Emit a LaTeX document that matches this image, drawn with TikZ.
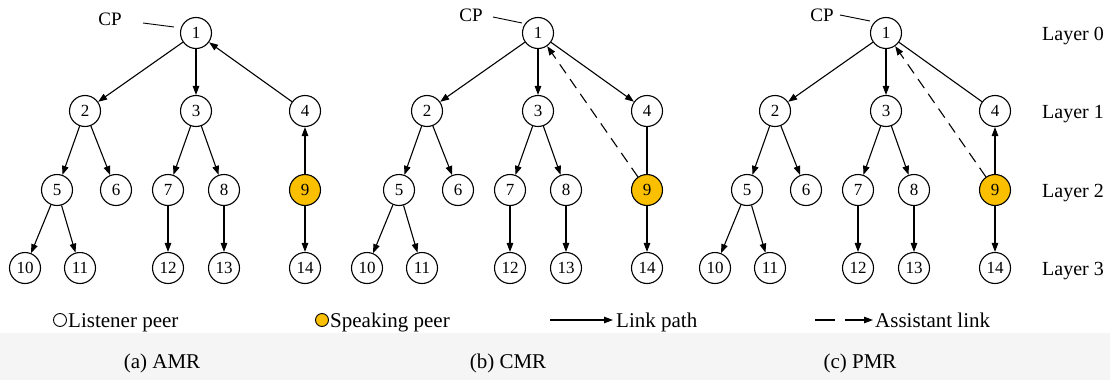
\documentclass[tikz,border=0pt]{standalone}
\usepackage{fontspec}
\setmainfont{Liberation Serif}
\usetikzlibrary{arrows.meta}
\definecolor{spk}{RGB}{250,192,0}
\definecolor{band}{RGB}{245,245,245}
\tikzset{
  peer/.style={circle,draw,line width=1.1pt,minimum size=31pt,inner sep=0pt,
    fill=white,font=\fontsize{17}{17}\selectfont},
  speak/.style={peer,fill=spk},
  link/.style={line width=1.1pt,-{Triangle[length=9pt,width=6.5pt]}},
  plainlink/.style={line width=1.1pt},
  assist/.style={link,dash pattern=on 11pt off 7pt},
  lbl/.style={inner sep=0pt,font=\fontsize{19}{19}\selectfont},
  bigl/.style={inner sep=0pt,font=\fontsize{21}{21}\selectfont},
  lgcirc/.style={circle,draw,line width=0.9pt,minimum size=13pt,inner sep=0pt},
}
\newcommand\placepeers[2]{%
  \begin{scope}[xshift=#2pt]
    \node[peer] (#11) at (196,33) {1};
    \node[peer] (#12) at (85,111) {2};
    \node[peer] (#13) at (196,111) {3};
    \node[peer] (#14) at (305,111) {4};
    \node[peer] (#15) at (57,190) {5};
    \node[peer] (#16) at (116,190) {6};
    \node[peer] (#17) at (168,190) {7};
    \node[peer] (#18) at (224,190) {8};
    \node[speak] (#19) at (305,190) {9};
    \node[peer] (#110) at (25,268) {10};
    \node[peer] (#111) at (80,268) {11};
    \node[peer] (#112) at (168,268) {12};
    \node[peer] (#113) at (224,268) {13};
    \node[peer] (#114) at (305,268) {14};
  \end{scope}
  \foreach \s/\t in {2/5,2/6,3/7,3/8,5/10,5/11,7/12,8/13,9/14}
    \draw[link] (#1\s) -- (#1\t);
}
\begin{document}
\begin{tikzpicture}[x=1pt,y=-1pt]
\useasboundingbox (0,0) rectangle (1110,380);
\fill[white] (0,0) rectangle (1110,380);
\fill[band] (0,333) rectangle (1110,380);

% panel (a)
\placepeers{a}{0}
\draw[link] (a1) -- (a2);
\draw[link] (a1) -- (a3);
\draw[link] (a4) -- (a1);
\draw[link] (a9) -- (a4);
\node[lbl] (acp) at (110,19) {CP};
\coordinate (acpA) at (143,23);
\coordinate (acpB) at (174,27);
\draw[line width=0.9pt] (acpA) -- (acpB);

% panel (b)
\placepeers{b}{342}
\draw[link] (b1) -- (b2);
\draw[link] (b1) -- (b3);
\draw[link] (b1) -- (b4);
\draw[plainlink] (b4) -- (b9);
\draw[assist] (b9) -- (b1);
\node[lbl] (bcp) at (471,15) {CP};
\coordinate (bcpA) at (493,17);
\coordinate (bcpB) at (522,23);
\draw[line width=0.9pt] (bcpA) -- (bcpB);

% panel (c)
\placepeers{c}{690}
\draw[link] (c1) -- (c2);
\draw[link] (c1) -- (c3);
\draw[plainlink] (c1) -- (c4);
\draw[link] (c9) -- (c4);
\draw[assist] (c9) -- (c1);
\node[lbl] (ccp) at (822,15) {CP};
\coordinate (ccpA) at (840,15);
\coordinate (ccpB) at (870,21);
\draw[line width=0.9pt] (ccpA) -- (ccpB);

% layer labels
\node[bigl,anchor=base west,font=\fontsize{20}{20}\selectfont] (L0) at (1042,40) {Layer 0};
\node[bigl,anchor=base west,font=\fontsize{20}{20}\selectfont] (L1) at (1042,118) {Layer 1};
\node[bigl,anchor=base west,font=\fontsize{20}{20}\selectfont] (L2) at (1042,197) {Layer 2};
\node[bigl,anchor=base west,font=\fontsize{20}{20}\selectfont] (L3) at (1042,275) {Layer 3};

% legend
\node[lgcirc,fill=white] (lgL) at (60,320) {};
\node[bigl,anchor=base west] (lgLt) at (68,327) {Listener peer};
\node[lgcirc,fill=spk] (lgS) at (322,320) {};
\node[bigl,anchor=base west] (lgSt) at (330,327) {Speaking peer};
\coordinate (lkA) at (550,320);
\coordinate (lkB) at (613,320);
\draw[link] (lkA) -- (lkB);
\node[bigl,anchor=base west] (lkT) at (616,327) {Link path};
\coordinate (asA) at (815,320);
\coordinate (asB) at (873,320);
\draw[link,dash pattern=on 20pt off 10pt] (asA) -- (asB);
\node[bigl,anchor=base west] (asT) at (875,327) {Assistant link};

% captions
\node[bigl,anchor=base] (capa) at (162,368) {(a) AMR};
\node[bigl,anchor=base] (capb) at (508,368) {(b) CMR};
\node[bigl,anchor=base] (capc) at (860,368) {(c) PMR};
\end{tikzpicture}
\end{document}
